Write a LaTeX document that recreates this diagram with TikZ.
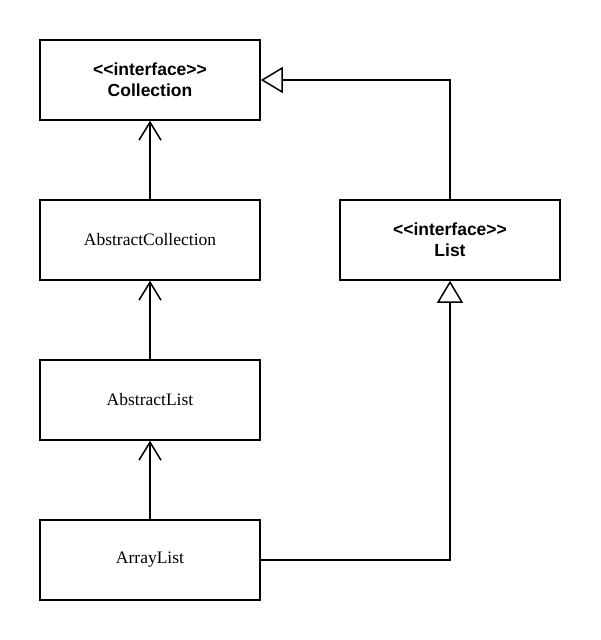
\documentclass[tikz,border=0pt]{standalone}
\usepackage{fontspec}
\setmainfont{Liberation Serif}
\newfontfamily\arialfont{Liberation Sans}
\usetikzlibrary{arrows.meta}
\begin{document}
\begin{tikzpicture}[x=1pt,y=-1pt, line width=1.5pt,
 box/.style={draw, minimum width=220pt, minimum height=80pt, inner sep=0pt, align=center, font=\fontsize{17.5}{21}\selectfont},
 ibox/.style={box, font=\arialfont\bfseries\fontsize{17.5}{21}\selectfont},
 inh/.style={-{Triangle[open,length=22pt,width=26pt]}},
 dep/.style={-{Straight Barb[length=18pt,width=22pt]}}]
\useasboundingbox (0,0) rectangle (600,640);
\node[ibox] (coll) at (150,80) {<<interface>>\\Collection};
\node[box] (acoll) at (150,240) {AbstractCollection};
\node[box] (alist) at (150,400) {AbstractList};
\node[box] (arr) at (150,560) {ArrayList};
\node[ibox] (list) at (450,240) {<<interface>>\\List};
\draw[dep] (acoll) -- (coll);
\draw[dep] (alist) -- (acoll);
\draw[dep] (arr) -- (alist);
\draw[inh] (list.north) |- (coll.east);
\draw[inh] (arr.east) -| (list.south);
\end{tikzpicture}
\end{document}
